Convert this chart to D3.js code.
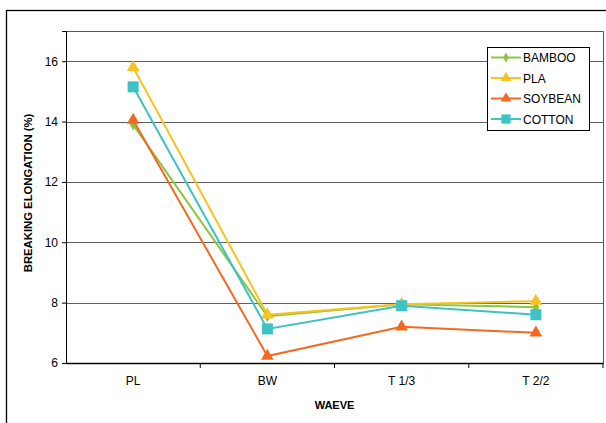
<!DOCTYPE html>
<html><head><meta charset="utf-8">
<script src="https://cdn.jsdelivr.net/npm/d3@7"></script>
<style>body{margin:0;background:#fff}svg{display:block;font-family:"Liberation Sans",Arial,sans-serif}</style>
</head><body><svg id="c" width="606" height="423"></svg>
<script>
const categories = ["PL", "BW", "T 1/3", "T 2/2"];
const seriesNames = ["BAMBOO", "PLA", "SOYBEAN", "COTTON"];
const bamboo = [13.9, 7.55, 7.95, 7.85];
const pla = [15.8, 7.6, 7.95, 8.05];
const soybean = [14.05, 6.23, 7.2, 7.0];
const cotton = [15.15, 7.13, 7.9, 7.6];
const yTicks = [6, 8, 10, 12, 14, 16];
const colors = ["#8cc63f", "#f7c31c", "#f26a21", "#3ec2c4"];
const shapes = [d3.symbolDiamond, d3.symbolTriangle, d3.symbolTriangle, d3.symbolSquare];
const sizes = [40, 70, 70, 121];

const svg = d3.select("#c");
const L = 66, R = 603, T = 31, B = 363;
// outer frame
svg.append("rect").attr("x", 6.5).attr("y", 10.5).attr("width", 610).attr("height", 420)
  .attr("fill", "none").attr("stroke", "#000").attr("stroke-width", 1.3);

const x = d3.scaleBand().domain(categories).range([L, R]);
const y = d3.scaleLinear().domain([6, 17]).range([B, T]);

// grid
svg.append("g").selectAll("line").data(yTicks.filter(d => d > 6)).join("line")
  .attr("x1", L).attr("x2", R).attr("y1", d => Math.round(y(d)) + 0.5).attr("y2", d => Math.round(y(d)) + 0.5)
  .attr("stroke", "#606060").attr("stroke-width", 1.2);
// plot frame top/right
svg.append("path").attr("d", `M${L},${T+0.5}H${R+0.5}V${B}`).attr("fill", "none").attr("stroke", "#555").attr("stroke-width", 1);

// axes
const yAxis = d3.axisLeft(y).tickValues(yTicks).tickSize(4).tickPadding(4);
const gy = svg.append("g").attr("transform", `translate(${L},0)`).call(yAxis);
gy.selectAll("text").attr("font-size", 12).attr("fill", "#000").attr("font-family", "Liberation Sans, Arial, sans-serif");
gy.select(".domain").attr("stroke", "#000");

const xAxis = d3.axisBottom(x).tickSize(0).tickPadding(13);
const gx = svg.append("g").attr("transform", `translate(0,${B})`).call(xAxis);
gx.selectAll("text").attr("font-size", 12).attr("fill", "#000").attr("font-family", "Liberation Sans, Arial, sans-serif");
gx.select(".domain").attr("stroke", "#000").attr("stroke-width", 1.3);
// boundary ticks
const bounds = categories.map(c => x(c) + x.bandwidth()).slice(0, 4);
svg.append("g").selectAll("line").data(bounds).join("line")
  .attr("x1", d => d).attr("x2", d => d).attr("y1", B).attr("y2", B + 5).attr("stroke", "#000");

// axis titles
svg.append("text").attr("transform", `translate(28,193) rotate(-90)`)
  .attr("text-anchor", "middle").attr("dominant-baseline", "central")
  .attr("font-size", 11.3).attr("font-weight", "bold").text("BREAKING ELONGATION (%)");
svg.append("text").attr("x", (L + R) / 2).attr("y", 409).attr("text-anchor", "middle")
  .attr("font-size", 11).attr("font-weight", "bold").text("WAEVE");

// series
const data = [bamboo, pla, soybean, cotton];
const cx = c => x(c) + x.bandwidth() / 2;
const line = d3.line().x((d, i) => cx(categories[i])).y(d => y(d));
data.forEach((vals, s) => {
  const g = svg.append("g");
  g.append("path").attr("d", line(vals)).attr("fill", "none").attr("stroke", colors[s]).attr("stroke-width", 2);
  g.selectAll("path.m").data(vals).join("path").attr("class", "m")
    .attr("transform", (d, i) => `translate(${cx(categories[i])},${y(d)})`)
    .attr("d", d3.symbol().type(shapes[s]).size(sizes[s])).attr("fill", colors[s]);
});

// legend
const lg = svg.append("g").attr("transform", "translate(487,47)");
lg.append("rect").attr("x", 0.5).attr("y", 0.5).attr("width", 102).attr("height", 83)
  .attr("fill", "#fff").attr("stroke", "#000");
seriesNames.forEach((n, s) => {
  const yy = 10.5 + s * 20.5;
  lg.append("line").attr("x1", 4).attr("x2", 34).attr("y1", yy).attr("y2", yy).attr("stroke", colors[s]).attr("stroke-width", 2);
  lg.append("path").attr("transform", `translate(19,${yy})`).attr("d", d3.symbol().type(shapes[s]).size(sizes[s] * 0.7)).attr("fill", colors[s]);
  lg.append("text").attr("x", 36).attr("y", yy + 4.5).attr("font-size", 12).text(n);
});
</script></body></html>
